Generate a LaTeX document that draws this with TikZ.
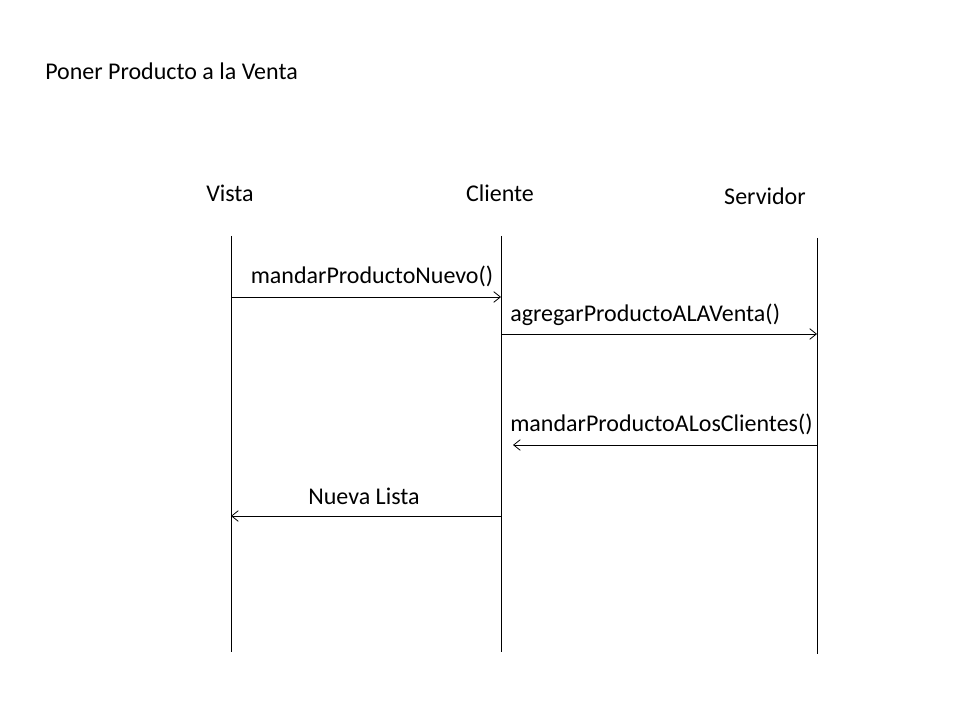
\documentclass[tikz,border=0pt]{standalone}
\usepackage{fontspec}
\setmainfont{Carlito}
\usetikzlibrary{arrows.meta}
\newcommand*{\yTop}{236}
\newcommand*{\yBot}{652}

\begin{document}
\begin{tikzpicture}[x=0.75pt,y=-0.75pt,
    every node/.style={font=\fontsize{18}{22}\selectfont, inner sep=0pt},
    msg/.style={-{Straight Barb[length=5pt,width=8pt]}, line width=0.6pt}]
    \useasboundingbox (0,0) rectangle (960,720);

    \node [anchor=west] (titulo) at (45,71) {Poner Producto a la Venta};

    % lifelines
    \node (vista) at (230,193) {Vista};
    \node (cliente) at (500,193) {Cliente};
    \node (servidor) at (765,196) {Servidor};
    \foreach \id/\x/\d in {vista/231/0, cliente/501/0, servidor/817/2} {
        \coordinate (\id-top) at (\x,\yTop+\d);
        \coordinate (\id-bot) at (\x,\yBot+\d);
        \draw [line width=0.6pt] (\id-top) -- (\id-bot);
    }

    % messages
    \coordinate (m1a) at (vista-top |- 0,297);
    \coordinate (m1b) at (cliente-top |- 0,297);
    \coordinate (m2a) at (cliente-top |- 0,334);
    \coordinate (m2b) at (servidor-top |- 0,334);
    \coordinate (m3a) at (servidor-top |- 0,445);
    \coordinate (m3b) at (513,445);
    \coordinate (m4a) at (cliente-top |- 0,516);
    \coordinate (m4b) at (vista-top |- 0,516);

    \draw [msg] (m1a) -- (m1b);
    \draw [msg] (m2a) -- (m2b);
    \draw [msg] (m3a) -- (m3b);
    \draw [msg] (m4a) -- (m4b);

    \node (l1) at (372,276) {mandarProductoNuevo()};
    \node [anchor=west] (l2) at (510,315) {agregarProductoALAVenta()};
    \node [anchor=west] (l3) at (510,424) {mandarProductoALosClientes()};
    \node (l4) at (364,496) {Nueva Lista};

\end{tikzpicture}
\end{document}
